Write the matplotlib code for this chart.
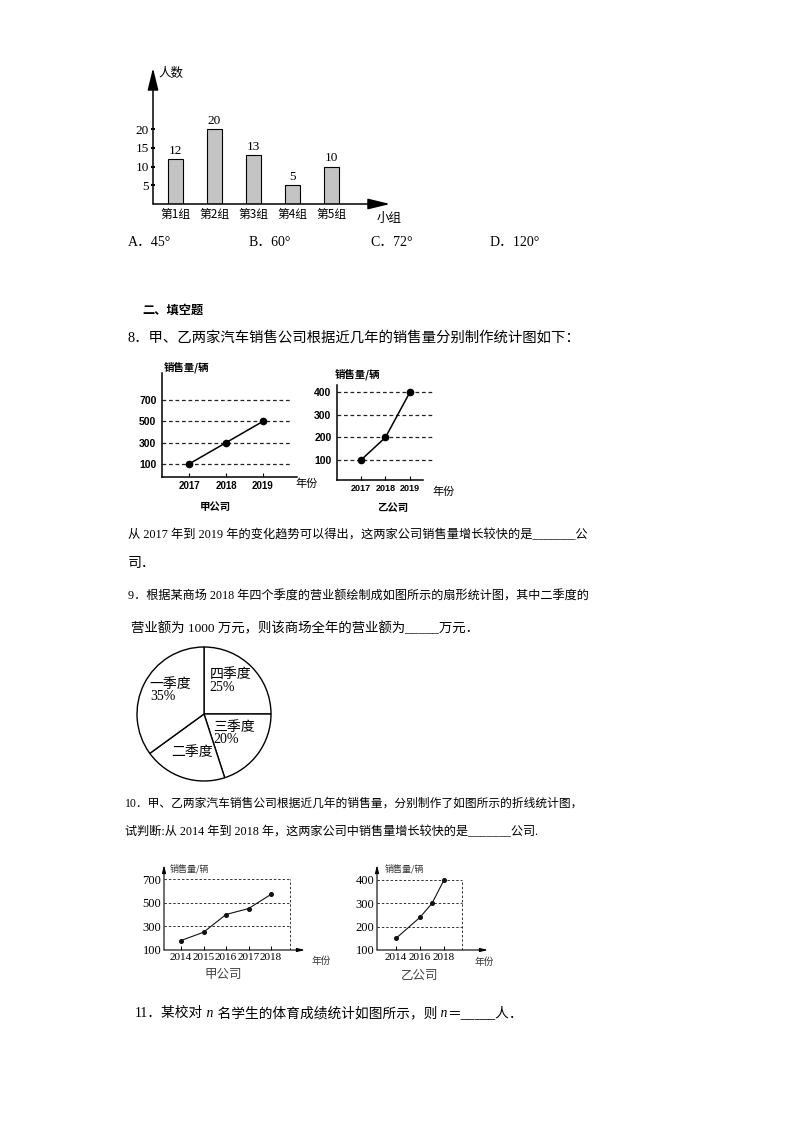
import numpy as np
import matplotlib
matplotlib.use('Agg')
import matplotlib.pyplot as plt

W, H = 794, 1123
MIX = ['Liberation Serif', 'Noto Sans CJK SC']
CJK = ['Noto Sans CJK SC', 'DejaVu Sans']
plt.rcParams['font.family'] = MIX

# question 7: bar chart
groups = ['第1组', '第2组', '第3组', '第4组', '第5组']
people = [12, 20, 13, 5, 10]
people_ticks = [5, 10, 15, 20]
options = ['A．45°', 'B．60°', 'C．72°', 'D．120°']

# question 8: two line charts
years_8 = [2017, 2018, 2019]
sales_jia_8 = [100, 300, 500]
sales_yi_8 = [100, 200, 400]
ticks_jia_8 = [100, 300, 500, 700]
ticks_yi_8 = [100, 200, 300, 400]

# question 9: pie chart
quarters = ['四季度', '三季度', '二季度', '一季度']
share = [25, 20, 20, 35]
share_text = ['25%', '20%', '', '35%']

# question 10: two line charts
years_jia_10 = [2014, 2015, 2016, 2017, 2018]
sales_jia_10 = [180, 250, 400, 450, 570]
years_yi_10 = [2014, 2016, 2017, 2018]
sales_yi_10 = [150, 240, 300, 400]
ticks_jia_10 = [100, 300, 500, 700]
ticks_yi_10 = [100, 200, 300, 400]
xticks_yi_10 = [2014, 2016, 2018]

fig = plt.figure(figsize=(W / 100, H / 100), dpi=100)
fig.patch.set_facecolor('white')
bg = fig.add_axes([0, 0, 1, 1])
bg.set_xlim(0, W)
bg.set_ylim(H, 0)
bg.axis('off')
renderer = fig.canvas.get_renderer()


def box(x0, y0, x1, y1):
    return fig.add_axes([x0 / W, 1 - y1 / H, (x1 - x0) / W, (y1 - y0) / H])


def px_val(p, p0, v0, p1, v1):
    return v0 + (p - p0) * (v1 - v0) / (p1 - p0)


def line(x0, y, s, x1=None, size=10, **kw):
    t = bg.text(x0, y, s, fontsize=size, ha='left', va='center', family=MIX, **kw)
    if x1 is not None:
        w = t.get_window_extent(renderer).width
        t.set_fontsize(size * (x1 - x0) / w)
    return t


def pieces(x0, y, parts, x1):
    # a line made of runs with different styles, fitted to x0..x1
    texts = []
    for s, kw in parts:
        props = {'family': MIX, **kw}
        texts.append(bg.text(0, y, s, fontsize=10, ha='left', va='baseline', **props))
    total = sum(t.get_window_extent(renderer).width for t in texts)
    size = 10 * (x1 - x0) / total
    x = x0
    for t in texts:
        t.set_fontsize(size)
        t.set_x(x)
        t.set_y(y + size * 0.45)
        x += t.get_window_extent(renderer).width


def arrows(ax, scale, lw=1.0):
    for end in [(0, 1), (1, 0)]:
        ax.annotate('', xy=end, xytext=(0, 0), xycoords='axes fraction',
                    arrowprops=dict(arrowstyle='-|>,head_length=0.9,head_width=0.22',
                                    color='k', lw=lw, mutation_scale=scale,
                                    shrinkA=0, shrinkB=0))
    for s in ax.spines.values():
        s.set_visible(False)


# ---- bar chart ----
ax1 = box(153, 68, 390, 204)
ax1.set_xlim(px_val(153, 175.5, 0, 214.5, 1), px_val(390, 175.5, 0, 214.5, 1))
ax1.set_ylim(px_val(204, 204, 0, 129, 20), px_val(68, 204, 0, 129, 20))
x = np.arange(len(groups))
ax1.bar(x, people, width=0.385, color='#c4c4c4', edgecolor='black', lw=0.8)
for i, v in enumerate(people):
    ax1.annotate(str(v), (i, v), xytext=(0, 1.5), textcoords='offset points',
                 ha='center', va='bottom', fontsize=9.5)
ax1.set_yticks(people_ticks, labels=[str(v) for v in people_ticks], fontsize=9.5)
ax1.set_xticks(x, labels=groups, fontsize=8.5, family=CJK)
ax1.tick_params(axis='y', length=2.5, width=1.5, direction='inout', pad=1.5)
ax1.tick_params(axis='x', length=0, pad=3)
ax1.patch.set_alpha(0)
arrows(ax1, 15, lw=1.1)
bg.text(158, 73, '人数', fontsize=9, family=CJK, va='center')
bg.text(389, 218, '小组', fontsize=9, family=CJK, va='center', ha='center')

for xo, s in zip([128, 249, 370, 490], options):
    line(xo, 242, s, size=10)

line(142, 311, '二、填空题', x1=203, size=10, fontweight='bold')
line(128, 338, '8．甲、乙两家汽车销售公司根据近几年的销售量分别制作统计图如下：', x1=582)


def small_line_chart(ax, years, sales, yticks, xpx, ypx, lims_px, grid_end_px, xsize=7):
    (xa, va), (xb, vb) = xpx
    (ya, wa), (yb, wb) = ypx
    x0, x1, y0, y1 = lims_px
    ax.set_xlim(px_val(x0, xa, va, xb, vb), px_val(x1, xa, va, xb, vb))
    ax.set_ylim(px_val(y1, ya, wa, yb, wb), px_val(y0, ya, wa, yb, wb))
    gx = px_val(grid_end_px, xa, va, xb, vb)
    ax.hlines(yticks, ax.get_xlim()[0], gx, colors='#222', lw=0.9,
              linestyles=(0, (3, 2.2)), clip_on=False)
    ax.plot(years, sales, '-o', color='k', lw=1.1, ms=4.5)
    ax.set_yticks(yticks, labels=[str(v) for v in yticks], fontsize=7.5,
                  fontweight='bold', family='Liberation Sans')
    ax.set_xticks(years, labels=[str(v) for v in years], fontsize=xsize,
                  fontweight='bold', family='Liberation Sans')
    ax.tick_params(axis='y', length=0, pad=4)
    ax.tick_params(axis='x', length=3, direction='in', pad=3)
    ax.spines[['top', 'right']].set_visible(False)
    for s in ['left', 'bottom']:
        ax.spines[s].set_linewidth(1.1)
    ax.patch.set_alpha(0)


ax2 = box(162, 373, 297, 477)
small_line_chart(ax2, years_8, sales_jia_8, ticks_jia_8,
                 [(189, 2017), (226, 2018)], [(464, 100), (400, 700)],
                 (162, 297, 373, 477), 292)
bg.text(164, 367, '销售量/辆', fontsize=7.5, family=CJK, fontweight='bold', va='center')
bg.text(295, 484, '年份', fontsize=8, family=CJK, va='center')
bg.text(215, 507, '甲公司', fontsize=7.5, family=CJK, fontweight='bold', va='center', ha='center')

ax3 = box(337, 385, 423, 480)
small_line_chart(ax3, years_8, sales_yi_8, ticks_yi_8,
                 [(361, 2017), (385.5, 2018)], [(460, 100), (392, 400)],
                 (337, 423, 385, 480), 432, xsize=6.5)
bg.text(335, 374, '销售量/辆', fontsize=7.5, family=CJK, fontweight='bold', va='center')
bg.text(432, 492, '年份', fontsize=8, family=CJK, va='center')
bg.text(393, 508, '乙公司', fontsize=7.5, family=CJK, fontweight='bold', va='center', ha='center')

line(128, 535, '从 2017 年到 2019 年的变化趋势可以得出，这两家公司销售量增长较快的是_______公', x1=587)
line(128, 563, '司．', size=10)
line(128, 597, '9．根据某商场 2018 年四个季度的营业额绘制成如图所示的扇形统计图，其中二季度的', x1=587)
line(131, 628, '营业额为 1000 万元，则该商场全年的营业额为_____万元．', x1=480)

# ---- pie chart ----
r = 67
axp = box(204 - r * 1.05, 714 - r * 1.05, 204 + r * 1.05, 714 + r * 1.05)
wedges, _ = axp.pie(share, startangle=90, counterclock=False, colors=['white'] * 4,
                    wedgeprops=dict(edgecolor='k', linewidth=1.0))
axp.set_xlim(-1.05, 1.05)
axp.set_ylim(-1.05, 1.05)
axp.set_aspect('equal')
for w, name, pct in zip(wedges, quarters, share_text):
    mid = np.deg2rad((w.theta1 + w.theta2) / 2)
    rr = 0.56 if pct else 0.6
    label = name + ('\n' + pct if pct else '')
    lift = 0.0
    if pct:
        lift = 0.1 if np.sin(mid) > 0 else 0.04
    axp.text(rr * np.cos(mid), rr * np.sin(mid) + lift, label,
             ha='center', va='center', multialignment='left', fontsize=10,
             linespacing=0.95, family=MIX)

line(125, 804, '10．甲、乙两家汽车销售公司根据近几年的销售量，分别制作了如图所示的折线统计图，', x1=582)
line(125, 832, '试判断:从 2014 年到 2018 年，这两家公司中销售量增长较快的是_______公司.', x1=540)


def thin_line_chart(ax, years, sales, yticks, xticks, xpx, ypx, lims_px, border_px):
    (xa, va), (xb, vb) = xpx
    (ya, wa), (yb, wb) = ypx
    x0, x1, y0, y1 = lims_px
    ax.set_xlim(px_val(x0, xa, va, xb, vb), px_val(x1, xa, va, xb, vb))
    ax.set_ylim(px_val(y1, ya, wa, yb, wb), px_val(y0, ya, wa, yb, wb))
    bx = px_val(border_px, xa, va, xb, vb)
    ax.hlines(yticks[1:], ax.get_xlim()[0], bx, colors='#333', lw=0.7,
              linestyles=(0, (2.5, 2)))
    ax.vlines(bx, yticks[0], yticks[-1], colors='#333', lw=0.7, linestyles=(0, (2.5, 2)))
    ax.plot(years, sales, '-o', color='#111', lw=0.8, ms=2.6)
    ax.set_yticks(yticks, labels=[str(v) for v in yticks], fontsize=9)
    ax.set_xticks(xticks, labels=[str(v) for v in xticks], fontsize=8)
    ax.tick_params(axis='y', length=0, pad=2)
    ax.tick_params(axis='x', length=3, width=0.7, direction='in', pad=2)
    ax.patch.set_alpha(0)
    arrows(ax, 5, lw=0.8)


ax4 = box(164, 865, 305, 950)
thin_line_chart(ax4, years_jia_10, sales_jia_10, ticks_jia_10, years_jia_10,
                [(181, 2014), (203.5, 2015)], [(950, 100), (879, 700)],
                (164, 305, 865, 950), 290)
bg.text(170, 869, '销售量/辆', fontsize=6.5, family=CJK, va='center', color='#333')
bg.text(312, 961, '年份', fontsize=7, family=CJK, va='center', color='#333')
bg.text(223, 974, '甲公司', fontsize=9, family=CJK, va='center', ha='center', color='#444')

ax5 = box(377, 865, 488, 950)
thin_line_chart(ax5, years_yi_10, sales_yi_10, ticks_yi_10, xticks_yi_10,
                [(396, 2014), (408, 2015)], [(950, 100), (880, 400)],
                (377, 488, 865, 950), 462)
bg.text(385, 869, '销售量/辆', fontsize=6.5, family=CJK, va='center', color='#333')
bg.text(475, 962, '年份', fontsize=7, family=CJK, va='center', color='#333')
bg.text(420, 975, '乙公司', fontsize=9, family=CJK, va='center', ha='center', color='#444')

it = {'family': 'Liberation Serif', 'style': 'italic'}
pieces(135, 1013, [('11．某校对', {}), (' n', it), (' 名学生的体育成绩统计如图所示，则', {}),
                   (' n', it), ('＝_____人．', {})], 522)

fig.savefig('out.png', dpi=100, facecolor='white')
